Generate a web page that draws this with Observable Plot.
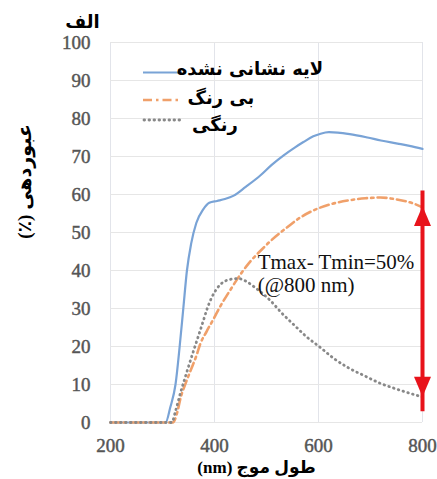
<!DOCTYPE html>
<html><head><meta charset="utf-8">
<script src="https://cdn.jsdelivr.net/npm/d3@7"></script>
<script src="https://cdn.jsdelivr.net/npm/@observablehq/plot@0.6"></script>
<style>body{margin:0;background:#fff}</style>
</head><body><div id="chart"></div>
<script>
const xTicks = [200, 400, 600, 800];
const yTicks = [0, 10, 20, 30, 40, 50, 60, 70, 80, 90, 100];

const uncoatedWl = [200, 300, 306, 315, 325, 333, 340, 347, 355, 365, 378, 390, 405, 420, 437, 460, 488, 510, 533, 555, 571, 590, 604, 620, 637, 660, 694, 720, 752, 775, 800];
const uncoatedT  = [0, 0, 0, 4, 10, 20, 30, 40, 47, 52.5, 56, 57.8, 58.3, 58.8, 59.7, 62, 65, 67.8, 70.3, 72.4, 73.8, 75.3, 76, 76.4, 76.3, 75.9, 75, 74.2, 73.4, 72.8, 72];

const clearWl = [200, 320, 328, 335, 345, 355, 365, 373, 385, 398, 410, 431, 450, 469, 490, 508, 527, 540, 560, 590, 620, 656, 690, 719, 750, 783, 800];
const clearT  = [0, 0, 2.5, 6.6, 10.5, 14, 17.5, 20.8, 24, 27.2, 30.3, 35, 39, 42.4, 45.4, 47.8, 50, 51.4, 53.5, 55.8, 57.3, 58.4, 59, 59.2, 58.7, 57.6, 56.6];

const coloredWl = [200, 318, 325, 335, 345, 360, 372, 379, 386, 395, 405, 420, 437, 446, 460, 480, 508, 530, 552, 575, 604, 630, 656, 690, 719, 750, 790, 800];
const coloredT  = [0, 0, 3, 8, 12.5, 19, 24, 27, 30, 33, 35.3, 37.2, 37.8, 37.9, 37.2, 35.3, 32, 28.7, 25.8, 22.8, 19.7, 16.8, 14.5, 12.2, 10.3, 8.8, 7.1, 6.7];

const seriesNames = ["لایه نشانی نشده", "بی رنگ", "رنگی"];
const arrowWl = 800;
const arrowTop = 57;
const arrowBottom = 6.8;
const annotation = [{x: 483, y: 44.8, text: "Tmax- Tmin=50%\n(@800 nm)"}];

const titleText = "الف";
const yLabel = "عبوردهی (٪)";
const xLabel = "طول موج (nm)";

const toRows = (w, t) => w.map((d, i) => ({wl: d, T: t[i]}));
const uncoated = toRows(uncoatedWl, uncoatedT);
const clear = toRows(clearWl, clearT);
const colored = toRows(coloredWl, coloredT);

const colors = ["#79a3d6", "#f0a06a", "#888888"];
const red = "#e8131b";
const dotDash = "0.6,4.4";
const dashDot = "9,4,2.5,4";

const head = {draw(ctx) { ctx.moveTo(0, 0); ctx.lineTo(-8.5, 20); ctx.lineTo(8.5, 20); ctx.closePath(); }};

const serif = "'Liberation Serif', 'Times New Roman', serif";
const arab = "'DejaVu Sans', sans-serif";
const mixed = "'Liberation Serif', 'DejaVu Sans', serif";

const chart = Plot.plot({
  width: 437, height: 479,
  marginLeft: 110, marginRight: 15, marginTop: 42, marginBottom: 57,
  style: {fontFamily: serif, background: "#fff"},
  x: {domain: [200, 800]},
  y: {domain: [0, 100]},
  marks: [
    Plot.gridX(xTicks, {stroke: "#e2e4ea", strokeOpacity: 1}),
    Plot.gridY(yTicks, {stroke: "#e6e6e6", strokeOpacity: 1}),
    Plot.axisX(xTicks, {tickSize: 0, tickPadding: 16, fontSize: 19, fill: "#555", label: null}),
    Plot.axisY(yTicks, {tickSize: 0, tickPadding: 20, fontSize: 19, fill: "#555", label: null}),
    Plot.line(uncoated, {x: "wl", y: "T", stroke: colors[0], strokeWidth: 2.2, curve: "monotone-x"}),
    Plot.line(clear, {x: "wl", y: "T", stroke: colors[1], strokeWidth: 2.6, strokeDasharray: dashDot, curve: "monotone-x"}),
    Plot.line(colored, {x: "wl", y: "T", stroke: colors[2], strokeWidth: 2.8, strokeDasharray: dotDash, strokeLinecap: "round", curve: "monotone-x"}),
    Plot.ruleX([arrowWl], {y1: arrowBottom, y2: arrowTop, stroke: red, strokeWidth: 4, insetTop: 15, insetBottom: 15}),
    Plot.dot([arrowWl], {x: d => d, y: () => arrowTop, symbol: head, fill: red, stroke: "none"}),
    Plot.dot([arrowWl], {x: d => d, y: () => arrowBottom, symbol: head, fill: red, stroke: "none", rotate: 180}),
    Plot.text(annotation, {x: "x", y: "y", text: "text", textAnchor: "start", lineAnchor: "top", lineHeight: 1.1, fontSize: 21, fill: "#111"}),
    Plot.text([titleText], {text: d => d, frameAnchor: "top-left", textAnchor: "middle", lineAnchor: "middle", dx: -28, dy: -20, fontSize: 18, fontWeight: "bold", fill: "#000"}),
    Plot.text([yLabel], {text: d => d, frameAnchor: "left", textAnchor: "middle", lineAnchor: "middle", dx: -86, dy: -51, rotate: -90, fontSize: 19, fontWeight: "bold", fill: "#000"}),
    Plot.text([xLabel], {text: d => d, frameAnchor: "bottom", textAnchor: "middle", lineAnchor: "middle", dx: -10, dy: 45, fontSize: 17, fontWeight: "bold", fill: "#000"})
  ]
});

const svg = d3.select(chart);
svg.selectAll("text").each(function() {
  const t = this.textContent;
  const s = d3.select(this);
  if (/[\u0600-\u06FF]/.test(t)) {
    s.attr("direction", "rtl").style("direction", "rtl").style("unicode-bidi", "embed")
     .style("font-family", /[a-z()]/.test(t) ? mixed : arab);
  }
  if (/^\d+$/.test(t)) {
    s.style("font-family", serif).style("font-weight", "normal")
     .attr("stroke", "#555").attr("stroke-width", 0.45).attr("paint-order", "stroke");
  }
});

// legend inside the plot area
const lg = svg.append("g");
const rows = [
  {name: seriesNames[0], color: colors[0], dash: null, w: 2.2, cap: "butt", ly: 72.5, tx: 250, ty: 75, x1: 143, x2: 182},
  {name: seriesNames[1], color: colors[1], dash: dashDot, w: 2.6, cap: "butt", ly: 100, tx: 221, ty: 104, x1: 143, x2: 178},
  {name: seriesNames[2], color: colors[2], dash: dotDash, w: 2.8, cap: "round", ly: 120, tx: 215, ty: 131, x1: 144, x2: 180}
];
rows.forEach(r => {
  lg.append("line").attr("x1", r.x1).attr("x2", r.x2).attr("y1", r.ly).attr("y2", r.ly)
    .attr("stroke", r.color).attr("stroke-width", r.w).attr("stroke-dasharray", r.dash).attr("stroke-linecap", r.cap);
  lg.append("text").attr("x", r.tx).attr("y", r.ty).attr("text-anchor", "middle").attr("direction", "rtl")
    .style("font-family", arab).attr("font-weight", "bold").attr("font-size", 18).attr("fill", "#000").text(r.name);
});

document.getElementById("chart").append(chart);
</script>
</body></html>
